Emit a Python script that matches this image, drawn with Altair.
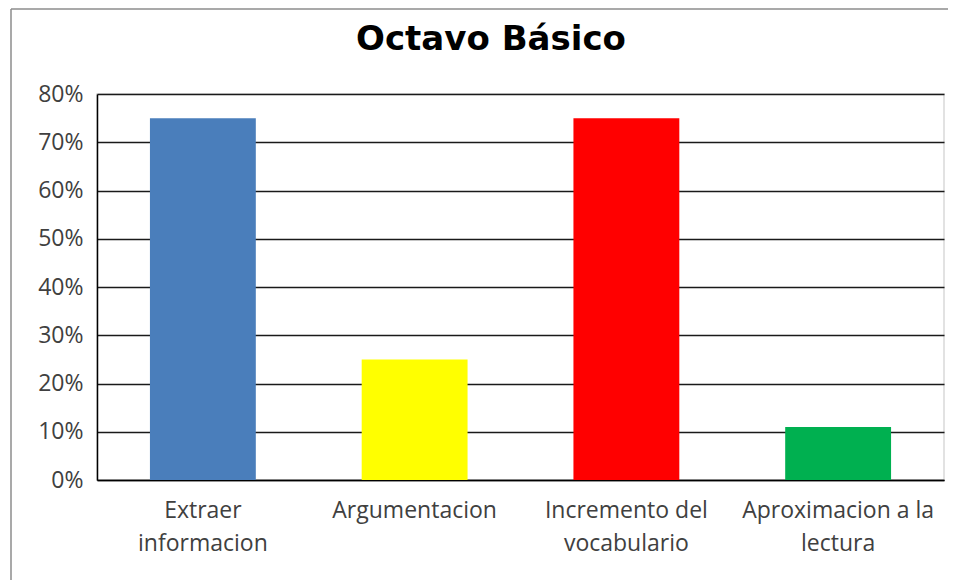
import altair as alt
import pandas as pd

title_text = "Octavo Básico"
categories = ["Extraer informacion", "Argumentacion", "Incremento del vocabulario", "Aproximacion a la lectura"]
values = [0.75, 0.25, 0.75, 0.11]
colors = ["#4A7EBB", "#FFFF00", "#FF0000", "#00B050"]
wrapped = {
    "Extraer informacion": ["Extraer", "informacion"],
    "Argumentacion": ["Argumentacion"],
    "Incremento del vocabulario": ["Incremento del", "vocabulario"],
    "Aproximacion a la lectura": ["Aproximacion a la", "lectura"],
}
y_ticks = [0, 0.1, 0.2, 0.3, 0.4, 0.5, 0.6, 0.7, 0.8]

df = pd.DataFrame({"categoria": categories, "valor": values, "color": colors})

expr = ""
for k, v in wrapped.items():
    arr = "[" + ",".join("'" + s + "'" for s in v) + "]"
    expr += f"datum.label == '{k}' ? {arr} : "
expr += "datum.label"

W, H = 847, 386

bars = alt.Chart(df).mark_bar().encode(
    x=alt.X(
        "categoria:N",
        sort=categories,
        scale=alt.Scale(paddingInner=0.5, paddingOuter=0.25),
        axis=alt.Axis(
            title=None, labelAngle=0, ticks=False, domainColor="#000000", domainWidth=1.5,
            labelFont="Open Sans", labelFontSize=23, labelColor="#404040",
            labelPadding=19, labelLineHeight=33, labelExpr=expr, labelBaseline="top",
            labelLimit=0,
        ),
    ),
    y=alt.Y(
        "valor:Q",
        scale=alt.Scale(domain=[0, 0.8], nice=False),
        axis=alt.Axis(
            title=None, format=".0%", values=y_ticks, ticks=False,
            domainColor="#000000", domainWidth=1.5,
            grid=True, gridColor="#1a1a1a", gridWidth=1.5,
            labelFont="Open Sans", labelFontSize=23, labelColor="#404040", labelPadding=14,
        ),
    ),
    color=alt.Color("color:N", scale=None, legend=None),
)

frame_df = pd.DataFrame({"k": [0]})
frame_left = alt.Chart(frame_df).mark_rule(color="#8c8c8c", strokeWidth=1.5).encode(
    x=alt.value(-86), y=alt.value(-85), y2=alt.value(H + 130)
)
frame_top = alt.Chart(frame_df).mark_rule(color="#8c8c8c", strokeWidth=1.5).encode(
    x=alt.value(-86), x2=alt.value(W + 40), y=alt.value(-85)
)
title_mark = alt.Chart(frame_df).mark_text(
    font="DejaVu Sans", fontSize=34, fontWeight="bold", color="#000000",
    align="center", baseline="alphabetic",
).encode(x=alt.value(394), y=alt.value(-44), text=alt.value(title_text))

chart = alt.layer(frame_left, frame_top, title_mark, bars).properties(
    width=W,
    height=H,
    autosize=alt.AutoSizeParams(type="none"),
    padding={"left": 89, "top": 86, "right": 4, "bottom": 100},
).configure_view(stroke="#d9d9d9", strokeWidth=1.5)

chart.save("out.html", embed_options={"renderer": "svg", "actions": False})
